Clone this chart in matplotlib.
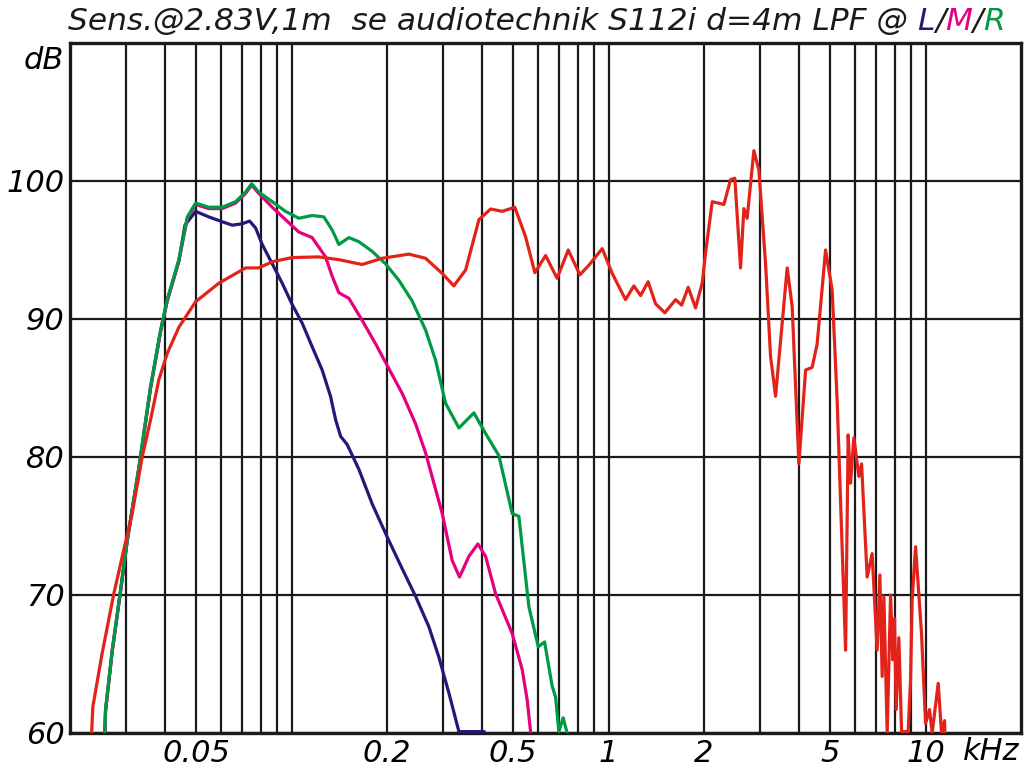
import matplotlib
matplotlib.use("Agg")
import matplotlib.pyplot as plt
from matplotlib.ticker import FixedLocator, NullFormatter

# ---------------- data (frequency in kHz, level in dB) ----------------
red_f = [0.0234, 0.02361, 0.02527, 0.0275, 0.02958, 0.03142, 0.03379, 0.03591, 0.03814, 0.04051,
         0.0441, 0.0498, 0.0590, 0.0716,
         0.0788, 0.0869, 0.1002, 0.1219, 0.1410, 0.167, 0.193, 0.2344, 0.2647, 0.2987,
         0.325, 0.354, 0.390, 0.4245, 0.4617, 0.506, 0.547, 0.5855, 0.633, 0.688,
         0.746, 0.812, 0.867, 0.955, 1.027, 1.131, 1.202, 1.262, 1.333, 1.407,
         1.505, 1.627, 1.70, 1.783, 1.881, 1.974, 2.023, 2.123, 2.311, 2.426,
         2.502, 2.608, 2.672, 2.736, 2.873, 2.979, 3.128, 3.243, 3.363, 3.529,
         3.660, 3.795, 3.984, 4.183, 4.389, 4.55, 4.836, 5.074, 5.261, 5.594,
         5.699, 5.799, 5.94, 6.16, 6.282, 6.543, 6.784, 7.035, 7.175, 7.296,
         7.387, 7.567, 7.755, 7.885, 7.983, 8.077, 8.236, 8.40, 8.811, 8.966,
         9.07, 9.30, 9.71, 10.0, 10.29, 10.49, 10.96, 11.23, 11.48, 11.5]
red_db = [60.0, 61.9, 65.8, 70.1, 73.3, 75.9, 80.0, 82.7, 85.6, 87.5,
          89.4, 91.25, 92.6, 93.7,
          93.7, 94.15, 94.45, 94.5, 94.3, 93.95, 94.4, 94.7, 94.4, 93.3,
          92.4, 93.55, 97.2, 97.97, 97.8, 98.1, 95.97, 93.36, 94.6, 92.95,
          95.0, 93.2, 93.9, 95.1, 93.3, 91.4, 92.4, 91.7, 92.7, 91.1,
          90.45, 91.4, 91.0, 92.3, 90.8, 92.6, 94.8, 98.5, 98.3, 100.1,
          100.2, 93.7, 98.0, 97.3, 102.2, 100.8, 94.0, 87.3, 84.4, 89.7,
          93.7, 90.9, 79.5, 86.3, 86.5, 88.2, 95.0, 92.1, 84.1, 66.0,
          81.6, 78.1, 81.4, 78.6, 79.5, 71.3, 73.0, 66.0, 71.45, 64.1,
          69.9, 60.0, 70.0, 65.3, 68.3, 61.7, 66.9, 60.1, 60.1, 63.8,
          69.6, 73.5, 67.2, 60.7, 61.7, 60.0, 63.6, 60.0, 60.9, 60.0]

green_f = [0.02576, 0.02589, 0.02717, 0.02888, 0.0303, 0.0330, 0.0359, 0.03862, 0.0405, 0.0441,
           0.0469, 0.0498, 0.0548,
           0.0604, 0.0666, 0.0716, 0.0748, 0.0788, 0.0869, 0.0957, 0.1054, 0.1161, 0.1264,
           0.1343, 0.1410, 0.1516, 0.1631, 0.1796, 0.1979, 0.2181, 0.2401, 0.2647, 0.2847,
           0.306, 0.3372, 0.3759, 0.4093, 0.4508, 0.4966, 0.5212, 0.5605, 0.6, 0.6282,
           0.6638, 0.6804, 0.697, 0.719, 0.740]
green_db = [60.0, 61.7, 66.0, 70.4, 74.0, 79.3, 85.1, 89.2, 91.4, 94.3,
            97.4, 98.4, 98.1,
            98.1, 98.5, 99.2, 99.8, 99.2, 98.5, 97.8, 97.3, 97.5, 97.4,
            96.45, 95.4, 95.9, 95.6, 94.9, 94.0, 92.8, 91.3, 89.2, 87.0,
            83.9, 82.1, 83.2, 81.7, 80.1, 75.9, 75.7, 69.15, 66.25, 66.6,
            63.4, 62.6, 60.1, 61.1, 60.0]

magenta_f = [0.02576, 0.02589, 0.02717, 0.02888, 0.0303, 0.0330, 0.0359, 0.03862, 0.0405, 0.0441,
             0.0469, 0.0498, 0.0548,
             0.0604, 0.0666, 0.0716, 0.0748, 0.0788, 0.0869, 0.0957, 0.1054, 0.1161, 0.128,
             0.1343, 0.1410, 0.1516, 0.167, 0.1841, 0.2028, 0.2234, 0.2462, 0.2647, 0.2987,
             0.3211, 0.3388, 0.3625, 0.387, 0.4093, 0.4401, 0.4966, 0.5339, 0.5537, 0.5675]
magenta_db = [60.0, 61.6, 65.9, 70.3, 73.9, 79.2, 85.0, 89.1, 91.3, 94.2,
              97.3, 98.3, 98.0,
              98.0, 98.4, 99.1, 99.7, 99.1, 98.1, 97.2, 96.3, 95.9, 94.5,
              93.1, 91.9, 91.5, 89.9, 88.2, 86.4, 84.6, 82.4, 80.3, 75.9,
              72.5, 71.3, 72.8, 73.7, 72.8, 70.1, 67.2, 64.6, 62.4, 60.1]

blue_f = [0.02576, 0.02589, 0.02717, 0.02888, 0.0303, 0.0330, 0.0359, 0.03862, 0.0405, 0.0441,
          0.0461, 0.0498, 0.0548,
          0.0604, 0.065, 0.0699, 0.0737, 0.077, 0.0808, 0.0869, 0.0934, 0.1002, 0.108,
          0.1161, 0.1249, 0.1327, 0.1377, 0.1428, 0.1498, 0.1631, 0.1796, 0.2003, 0.2234,
          0.2462, 0.2711, 0.2915, 0.3135, 0.3372, 0.4043]
blue_db = [60.0, 61.6, 65.9, 70.3, 73.9, 79.2, 85.0, 89.1, 91.3, 94.2,
           96.8, 97.8, 97.4,
           97.05, 96.8, 96.9, 97.1, 96.6, 95.4, 94.0, 92.6, 91.1, 89.7,
           88.0, 86.3, 84.4, 82.7, 81.5, 80.9, 79.1, 76.6, 74.2, 71.9,
           69.9, 67.7, 65.5, 62.9, 60.1, 60.1]

x_major = [0.05, 0.2, 0.5, 1, 2, 5, 10]
x_major_labels = ["0.05", "0.2", "0.5", "1", "2", "5", "10"]
x_minor = [0.03, 0.04, 0.06, 0.07, 0.08, 0.09, 0.1, 0.3, 0.4, 0.6, 0.7, 0.8, 0.9,
           3, 4, 6, 7, 8, 9]
y_ticks = [60, 70, 80, 90, 100]
y_labels = ["60", "70", "80", "90", "100"]

# ---------------- styling ----------------
C_RED = "#e2231a"
C_GREEN = "#009a44"
C_MAGENTA = "#e6007e"
C_BLUE = "#211a78"
FONT = "DejaVu Sans"

fig = plt.figure(figsize=(10.24, 7.68), dpi=100)
ax = fig.add_axes([70 / 1024, 1 - 733 / 768, (1021 - 70) / 1024, (733 - 43) / 768])
ax.set_xscale("log")
ax.set_xlim(0.02, 20)
ax.set_ylim(60, 110)

ax.xaxis.set_major_locator(FixedLocator(x_major))
ax.xaxis.set_minor_locator(FixedLocator(x_minor))
ax.set_xticklabels(x_major_labels)
ax.xaxis.set_minor_formatter(NullFormatter())
ax.set_yticks(y_ticks)
ax.set_yticklabels(y_labels)
ax.tick_params(axis="both", which="both", length=0)
ax.tick_params(axis="x", pad=4)
ax.tick_params(axis="y", pad=4)
for lab in ax.get_xticklabels() + ax.get_yticklabels():
    lab.set_fontsize(22)
    lab.set_fontstyle("italic")
    lab.set_family(FONT)

ax.grid(True, which="both", axis="x", color="#1a1a1a", lw=1.6)
ax.grid(True, which="major", axis="y", color="#1a1a1a", lw=1.6)
ax.set_axisbelow(True)
for sp in ax.spines.values():
    sp.set_linewidth(2.4)
    sp.set_color("#1a1a1a")

lw = 2.3
ax.plot(blue_f, blue_db, color=C_BLUE, lw=lw, zorder=3)
ax.plot(magenta_f, magenta_db, color=C_MAGENTA, lw=lw, zorder=4)
ax.plot(green_f, green_db, color=C_GREEN, lw=lw, zorder=5)
ax.plot(red_f, red_db, color=C_RED, lw=lw, zorder=6)

# axis unit labels
ax.text(-0.006, 108.7, "dB", transform=ax.get_yaxis_transform(), ha="right", va="center",
        fontsize=22, fontstyle="italic", family=FONT)
fig.text(963 / 1024, 1 - 752 / 768, "kHz", ha="left", va="center",
         fontsize=22, fontstyle="italic", family=FONT)

# title with coloured L/M/R
parts = [("Sens.@2.83V,1m  se audiotechnik S112i d=4m LPF @ ", "#1a1a1a"),
         ("L", C_BLUE), ("/", "#1a1a1a"), ("M", C_MAGENTA), ("/", "#1a1a1a"), ("R", C_GREEN)]
prev = fig.text(68 / 1024, 1 - 30 / 768, parts[0][0], color=parts[0][1], ha="left",
                va="baseline", fontsize=22.5, fontstyle="italic", family=FONT)
for txt, col in parts[1:]:
    prev = ax.annotate(txt, xy=(1, 0), xycoords=prev, ha="left", va="bottom",
                       color=col, fontsize=22.5, fontstyle="italic", family=FONT,
                       annotation_clip=False)

fig.savefig("out.png", dpi=100)
